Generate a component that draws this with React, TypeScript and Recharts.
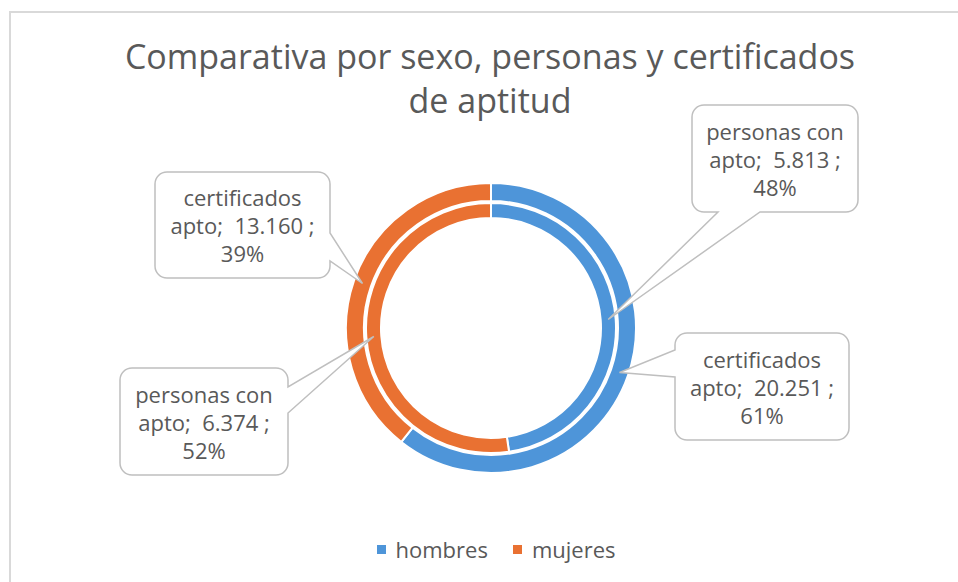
import { PieChart, Pie, Cell, Legend } from 'recharts'

const categories = ['hombres', 'mujeres']
const certificadosApto = [20251, 13160]
const personasConApto = [5813, 6374]
const seriesNames = ['certificados apto', 'personas con apto']
const colors = ['#4E95D9', '#E97132']
const titleLines = ['Comparativa por sexo, personas y certificados', 'de aptitud']

const FONT = '"Open Sans", "Liberation Sans", sans-serif'
const TEXT = '#595959'

// cajas de las etiquetas: posición, tamaño y lado donde sale la flecha
type Callout = { x: number; y: number; w: number; h: number; side: 'left' | 'right' | 'bottom'; a: number; b: number }
const outerCallouts: Callout[] = [
  { x: 675, y: 333, w: 174, h: 107, side: 'left', a: 350, b: 377 },
  { x: 155, y: 172, w: 175, h: 106, side: 'right', a: 233, b: 261 },
]
const innerCallouts: Callout[] = [
  { x: 692, y: 105, w: 166, h: 107, side: 'bottom', a: 718, b: 760 },
  { x: 120, y: 368, w: 168, h: 107, side: 'right', a: 387, b: 413 },
]

const certData = categories.map((name, i) => ({ name, value: certificadosApto[i] }))
const persData = categories.map((name, i) => ({ name, value: personasConApto[i] }))

const formatNumber = (v: number) => String(v).replace(/\B(?=(\d{3})+(?!\d))/g, '.')

function calloutPath(c: Callout, tx: number, ty: number) {
  const r = 12
  const { x, y, w, h } = c
  let d = `M${x + r},${y} H${x + w - r} A${r},${r} 0 0 1 ${x + w},${y + r}`
  if (c.side === 'right') d += ` V${c.a} L${tx},${ty} L${x + w},${c.b}`
  d += ` V${y + h - r} A${r},${r} 0 0 1 ${x + w - r},${y + h}`
  if (c.side === 'bottom') d += ` H${c.b} L${tx},${ty} L${c.a},${y + h}`
  d += ` H${x + r} A${r},${r} 0 0 1 ${x},${y + h - r}`
  if (c.side === 'left') d += ` V${c.b} L${tx},${ty} L${x},${c.a}`
  d += ` V${y + r} A${r},${r} 0 0 1 ${x + r},${y} Z`
  return d
}

const makeLabel = (seriesName: string, boxes: Callout[]) => (props: any) => {
  const { cx, cy, midAngle, innerRadius, outerRadius, percent, value, index } = props
  const RAD = Math.PI / 180
  const r = (innerRadius + outerRadius) / 2
  const tx = cx + r * Math.cos(-midAngle * RAD)
  const ty = cy + r * Math.sin(-midAngle * RAD)
  const box = boxes[index]
  const cut = seriesName.lastIndexOf(' ')
  const lines = [
    seriesName.slice(0, cut),
    `${seriesName.slice(cut + 1)};\u00a0 ${formatNumber(value)} ;`,
    `${Math.round(percent * 100)}%`,
  ]
  const mx = box.x + box.w / 2
  const my = box.y + box.h / 2
  return (
    <g key={`callout-${seriesName}-${index}`}>
      <path d={calloutPath(box, tx, ty)} fill="#fff" stroke="#BFBFBF" strokeWidth={1.5} />
      {lines.map((line, i) => (
        <text
          key={i}
          x={mx}
          y={my + (i - 1) * 28}
          textAnchor="middle"
          dominantBaseline="central"
          fill={TEXT}
          fontSize={22}
          fontFamily={FONT}
        >
          {line}
        </text>
      ))}
    </g>
  )
}

const renderLegend = () => (
  <div style={{ display: 'flex', justifyContent: 'center', gap: 25, fontFamily: FONT, fontSize: 22, color: TEXT, lineHeight: '28px' }}>
    {categories.map((c, i) => (
      <span key={c} style={{ display: 'flex', alignItems: 'center' }}>
        <span style={{ width: 9, height: 9, background: colors[i], marginRight: 10 }} />
        {c}
      </span>
    ))}
  </div>
)

export default function App() {
  return (
    <div style={{ position: 'fixed', left: 0, top: 0, width: 958, height: 582, background: '#fff', overflow: 'hidden' }}>
      <div style={{ position: 'absolute', left: 9, top: 11, width: 980, height: 600, border: '2px solid #D9D9D9' }} />
      <div
        style={{
          position: 'absolute',
          left: 0,
          top: 34,
          width: 980,
          textAlign: 'center',
          fontFamily: FONT,
          fontSize: 34,
          lineHeight: '44px',
          color: TEXT,
        }}
      >
        {titleLines.map((t) => (
          <div key={t}>{t}</div>
        ))}
      </div>
      <div style={{ position: 'absolute', left: 0, top: 0 }}>
        <PieChart width={958} height={582} margin={{ top: 0, right: 0, bottom: 0, left: 0 }}>
          <Pie
            data={certData}
            dataKey="value"
            nameKey="name"
            cx={491}
            cy={328}
            innerRadius={127}
            outerRadius={145}
            startAngle={90}
            endAngle={-270}
            stroke="#fff"
            strokeWidth={2}
            label={makeLabel(seriesNames[0], outerCallouts)}
            labelLine={false}
            isAnimationActive={false}
          >
            {certData.map((d, i) => (
              <Cell key={d.name} fill={colors[i]} />
            ))}
          </Pie>
          <Pie
            data={persData}
            dataKey="value"
            nameKey="name"
            cx={491}
            cy={328}
            innerRadius={110}
            outerRadius={125}
            startAngle={90}
            endAngle={-270}
            stroke="#fff"
            strokeWidth={2}
            label={makeLabel(seriesNames[1], innerCallouts)}
            labelLine={false}
            isAnimationActive={false}
          >
            {persData.map((d, i) => (
              <Cell key={d.name} fill={colors[i]} />
            ))}
          </Pie>
          <Legend content={renderLegend} verticalAlign="bottom" wrapperStyle={{ left: 0, width: 992, bottom: 19 }} />
        </PieChart>
      </div>
    </div>
  )
}
